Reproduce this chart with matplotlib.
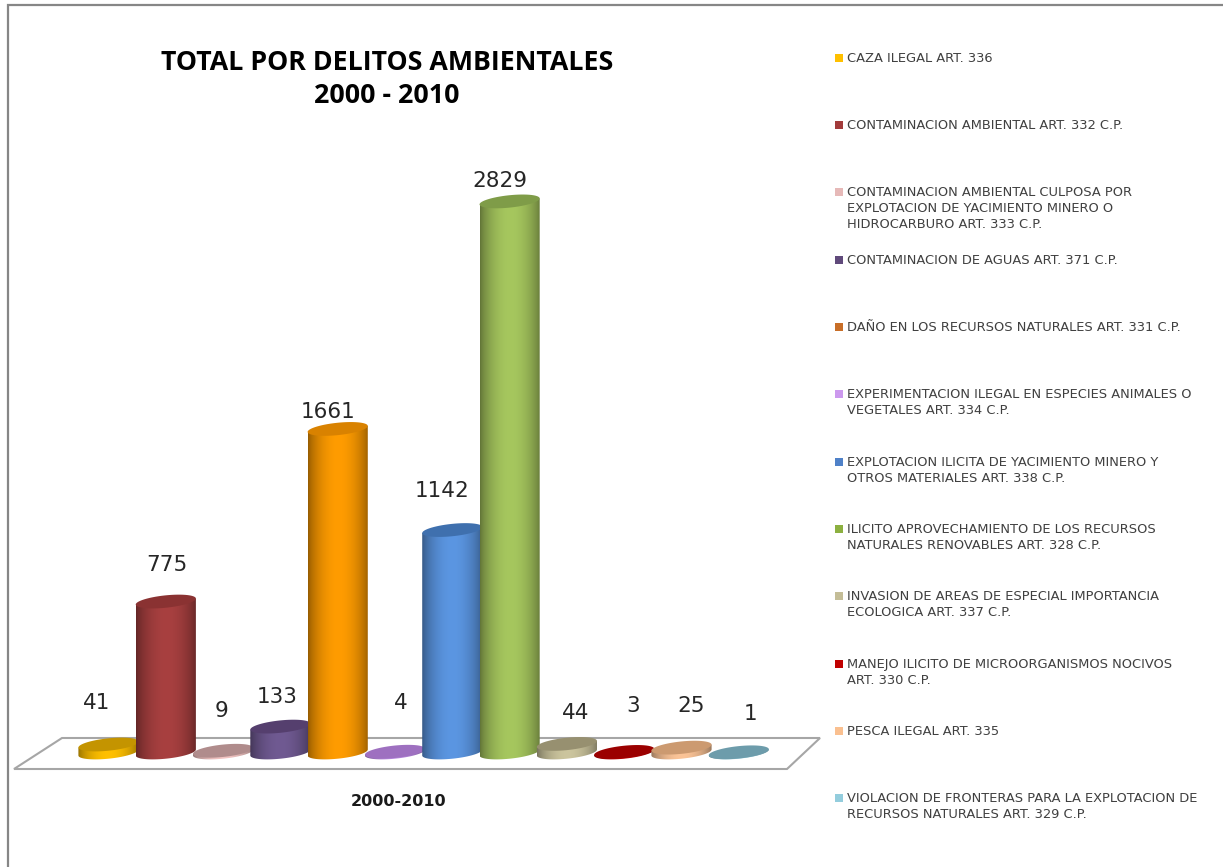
import numpy as np
import matplotlib
matplotlib.use('Agg')
import matplotlib.pyplot as plt
from matplotlib.path import Path
from matplotlib.patches import Polygon

# Data
categories = [
    'CAZA ILEGAL ART. 336',
    'CONTAMINACION AMBIENTAL ART. 332 C.P.',
    'CONTAMINACION AMBIENTAL CULPOSA POR\nEXPLOTACION DE YACIMIENTO MINERO O\nHIDROCARBURO ART. 333 C.P.',
    'CONTAMINACION DE AGUAS ART. 371 C.P.',
    'DAÑO EN LOS RECURSOS NATURALES ART. 331 C.P.',
    'EXPERIMENTACION ILEGAL EN ESPECIES ANIMALES O\nVEGETALES ART. 334 C.P.',
    'EXPLOTACION ILICITA DE YACIMIENTO MINERO Y\nOTROS MATERIALES ART. 338 C.P.',
    'ILICITO APROVECHAMIENTO DE LOS RECURSOS\nNATURALES RENOVABLES ART. 328 C.P.',
    'INVASION DE AREAS DE ESPECIAL IMPORTANCIA\nECOLOGICA ART. 337 C.P.',
    'MANEJO ILICITO DE MICROORGANISMOS NOCIVOS\nART. 330 C.P.',
    'PESCA ILEGAL ART. 335',
    'VIOLACION DE FRONTERAS PARA LA EXPLOTACION DE\nRECURSOS NATURALES ART. 329 C.P.',
]
values = [41, 775, 9, 133, 1661, 4, 1142, 2829, 44, 3, 25, 1]

# Colours
side_colors = ['#FFC000', '#A84040', '#F2C4C2', '#705A92', '#FF9C00', '#B888E0',
               '#5B96E2', '#A6C75E', '#CCC59E', '#C00000', '#FBC497', '#93CDDD']
top_colors = ['#C49400', '#8A3232', '#B08C8C', '#553F6E', '#D98200', '#9E70C0',
              '#3F70AE', '#7F9C48', '#979070', '#9B0000', '#CC9A70', '#6D9CAB']
legend_colors = ['#FFC000', '#A23B3B', '#E6B9B8', '#604A7B', '#C86E28', '#CC99EE',
                 '#4F81C8', '#8CB040', '#C4BD97', '#C00000', '#FAC090', '#93CDDD']

# Label positions, pixels
label_x = [97, 167, 221, 277, 328, 401, 442, 500, 576, 633, 691, 751]
label_y = [703, 565, 711, 697, 412, 703, 491, 181, 713, 706, 706, 714]

W, H = 1223, 867
x0_px, dx_px = 108.5, 57.3   # first bar centre, bar spacing
base_px, sy = 752.5, 0.1948  # baseline, pixels per unit

fig = plt.figure(figsize=(W / 100, H / 100), dpi=100, facecolor='white')

# Background layer in pixels
bg = fig.add_axes([0, 0, 1, 1], zorder=0)
bg.set_xlim(0, W)
bg.set_ylim(H, 0)
bg.axis('off')

# Chart layer in data units
ax = fig.add_axes([0, 0, 1, 1], zorder=1)
ax.patch.set_alpha(0)
ax.axis('off')

# Chart border and floor
bg.plot([8, 8, W], [H, 5, 5], color='#868686', lw=1.6, solid_joinstyle='miter')
bg.add_patch(Polygon([(14, 769), (62, 738), (820, 738), (787, 769)], closed=True,
                     facecolor='white', edgecolor='#A6A6A6', lw=1.5))

a = 0.525
b = 6.2 / sy
k = 3.0 / sy


def ellipse_pts(xc, yc, t):
    return xc + a * np.cos(t), yc + b * np.sin(t) + k * np.cos(t)


# darker towards the edges of each cylinder
shade = 0.58 + 0.42 * np.sin(np.pi * np.linspace(0, 1, 120)) ** 0.7

for i, v in enumerate(values):
    # body of the cylinder
    xb, yb = ellipse_pts(i, 0, np.linspace(np.pi, 2 * np.pi, 40))
    xs = np.concatenate([xb, [i + a, i - a]])
    ys = np.concatenate([yb, [v + k, v - k]])
    rgb = np.array(matplotlib.colors.to_rgb(side_colors[i]))
    img = (shade[:, None] * rgb)[None, :, :]
    im = ax.imshow(img, extent=[i - a, i + a, -2 * b, v + 2 * b], aspect='auto',
                   origin='lower', zorder=2 + i, interpolation='bilinear')
    im.set_clip_path(Path(np.column_stack([xs, ys])), transform=ax.transData)
    # top of the cylinder
    xt, yt = ellipse_pts(i, v, np.linspace(0, 2 * np.pi, 60))
    ax.fill(xt, yt, color=top_colors[i], lw=0, zorder=2 + i)

ax.set_xlim(-x0_px / dx_px, (W - x0_px) / dx_px)
ax.set_ylim(-(H - base_px) / sy, base_px / sy)

# Value labels
for v, lx, ly in zip(values, label_x, label_y):
    bg.text(lx, ly, str(v), ha='center', va='center', fontsize=15.5,
            color='#262626', family='DejaVu Sans')

# Category label
bg.text(399, 801, '2000-2010', ha='center', va='center', fontsize=11.5,
        fontweight='bold', color='#1a1a1a', family='DejaVu Sans')

# Title
bg.text(387, 63, 'TOTAL POR DELITOS AMBIENTALES', ha='center', va='center',
        fontsize=19.3, fontweight='bold', color='black', family='Open Sans')
bg.text(387, 96, '2000 - 2010', ha='center', va='center',
        fontsize=19.3, fontweight='bold', color='black', family='Open Sans')

# Legend
for i, (name, col) in enumerate(zip(categories, legend_colors)):
    y = 57.5 + 67.35 * i
    bg.add_patch(plt.Rectangle((835, y - 4), 8, 8, facecolor=col, edgecolor='none'))
    bg.text(847, y - 6, name, ha='left', va='top', fontsize=9.4, color='#404040',
            family='DejaVu Sans', linespacing=1.31)

fig.savefig('out.png', dpi=100)
